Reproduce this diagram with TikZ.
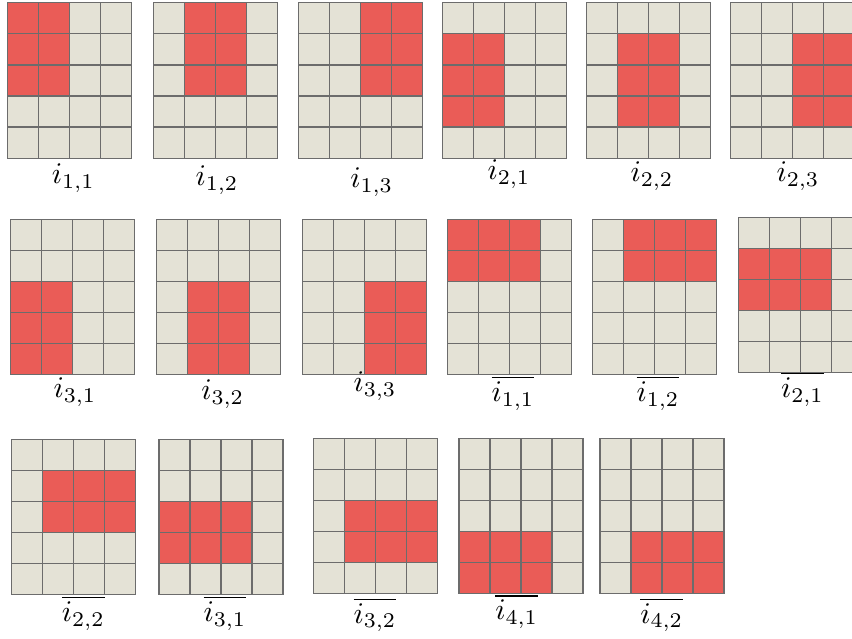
\documentclass[tikz,border=0pt]{standalone}
\usepackage{amsmath}
\definecolor{cellbg}{RGB}{228,226,214}
\definecolor{cellhot}{RGB}{234,92,87}
\definecolor{cellline}{RGB}{108,108,108}
% one 4x5 window: left, top, then the red block (col, row, width, height)
\newcommand{\window}[6]{%
  \begin{scope}[shift={(#1,#2)}, x=10.333pt, y=-10.367pt]
    \fill[cellbg] (0,0) rectangle (4,5);
    \fill[cellhot] (#3,#4) rectangle ++(#5,#6);
    \foreach \c in {1,2,3} \draw[gridline] (\c,0) -- (\c,5);
    \foreach \r in {1,2,3,4} \draw[gridline] (0,\r) -- (4,\r);
    \draw[gridline] (0,0) rectangle (4,5);
  \end{scope}}
\begin{document}
\begin{tikzpicture}[x=0.3333pt, y=-0.3333pt,
          gridline/.style={draw=cellline, line width=0.45pt},
          lbl/.style={anchor=base, inner sep=0pt}]
        \useasboundingbox (0,0) rectangle (852,639);
        % first row: 3x2 blocks
        \window{7.5}{2.7}{0}{0}{2}{3}
        \window{153.3}{2.7}{1}{0}{2}{3}
        \window{298.3}{2.7}{2}{0}{2}{3}
        \window{442.7}{2.7}{0}{1}{2}{3}
        \window{586.7}{2.7}{1}{1}{2}{3}
        \window{730.7}{2.7}{2}{1}{2}{3}
        \node[lbl] (a11) at (73.3,184) {$i_{1,1}$};
        \node[lbl] (a12) at (217,185.7) {$i_{1,2}$};
        \node[lbl] (a13) at (371.7,188) {$i_{1,3}$};
        \node[lbl] (a21) at (509,180) {$i_{2,1}$};
        \node[lbl] (a22) at (652,181.7) {$i_{2,2}$};
        \node[lbl] (a23) at (798,181.7) {$i_{2,3}$};
        % second row
        \window{10.7}{219.3}{0}{2}{2}{3}
        \window{156.7}{219.3}{1}{2}{2}{3}
        \window{302.7}{219.3}{2}{2}{2}{3}
        \window{447.7}{219.3}{0}{0}{3}{2}
        \window{592.3}{219.3}{1}{0}{3}{2}
        \window{738.3}{217.3}{0}{1}{3}{2}
        \node[lbl] (a31) at (75,398) {$i_{3,1}$};
        \node[lbl] (a32) at (222.7,400) {$i_{3,2}$};
        \node[lbl] (a33) at (375,391.7) {$i_{3,3}$};
        \node[lbl] (b11) at (513,401.7) {$\overline{i_{1,1}}$};
        \node[lbl] (b12) at (658,401.7) {$\overline{i_{1,2}}$};
        \node[lbl] (b21) at (802.5,397.7) {$\overline{i_{2,1}}$};
        % third row: 2x3 blocks
        \window{11.7}{439.3}{1}{1}{3}{2}
        \window{159}{439.3}{0}{2}{3}{2}
        \window{313.3}{438.3}{1}{2}{3}{2}
        \window{459}{438.3}{0}{3}{3}{2}
        \window{600}{438.3}{1}{3}{3}{2}
        \node[lbl] (b22) at (83.3,621.7) {$\overline{i_{2,2}}$};
        \node[lbl] (b31) at (225,621.7) {$\overline{i_{3,1}}$};
        \node[lbl] (b32) at (375,623.3) {$\overline{i_{3,2}}$};
        \node[lbl] (b41) at (516.7,620) {$\overline{i_{4,1}}$};
        \node[lbl] (b42) at (661.7,623.3) {$\overline{i_{4,2}}$};
      \end{tikzpicture}
\end{document}
